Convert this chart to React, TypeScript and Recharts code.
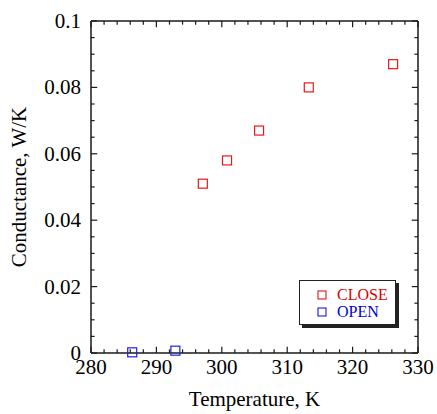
import React from 'react';
import { ScatterChart, Scatter, XAxis, YAxis, ReferenceLine } from 'recharts';

const closeTemps = [297.1, 300.8, 305.7, 313.3, 326.2];
const closeCond = [0.051, 0.058, 0.067, 0.080, 0.087];
const openTemps = [286.3, 292.9];
const openCond = [0.0002, 0.0007];

const xTicks = [280, 282, 284, 286, 288, 290, 292, 294, 296, 298, 300, 302, 304, 306, 308, 310, 312, 314, 316, 318, 320, 322, 324, 326, 328, 330];
const yTicksMilli = [0, 5, 10, 15, 20, 25, 30, 35, 40, 45, 50, 55, 60, 65, 70, 75, 80, 85, 90, 95, 100];
const yTicks = yTicksMilli.map((v) => v / 1000);
const xMajor = [280, 290, 300, 310, 320, 330];
const yMajor = [0, 0.02, 0.04, 0.06, 0.08, 0.1];
const legendNames = ['CLOSE', 'OPEN'];

const closeData = closeTemps.map((x, i) => ({ x, y: closeCond[i] }));
const openData = openTemps.map((x, i) => ({ x, y: openCond[i] }));

const X0 = 280;
const X1 = 330;
const Y0 = 0;
const Y1 = 0.1;

const FONT = '"Liberation Serif", "Times New Roman", serif';
const AX = '#1a1a1a';
const SW = 1.5;
// tick lengths expressed in data units of the axes (about 6px and 3.5px)
const isMajorX = (v: number) => Math.round(v) % 10 === 0;
const isMajorY = (v: number) => Math.round(v * 1000) % 20 === 0;
const tickLenY = (maj: boolean) => (maj ? 0.0019 : 0.0011);
const tickLenX = (maj: boolean) => (maj ? 0.95 : 0.55);

const BottomTick = (p: any) => {
  const v = p.payload.value;
  if (!isMajorX(v)) return <g />;
  return (
    <text x={p.x} y={p.y + 21} textAnchor="middle" fontFamily={FONT} fontSize={21} fill="#000">
      {v}
    </text>
  );
};
const LeftTick = (p: any) => {
  const v = p.payload.value;
  if (!isMajorY(v)) return <g />;
  return (
    <text x={p.x - 10} y={p.y + 7} textAnchor="end" fontFamily={FONT} fontSize={21} fill="#000">
      {String(v)}
    </text>
  );
};

const squareShape = (color: string) => (props: any) => {
  const { cx, cy } = props;
  if (cx == null || cy == null) return <g />;
  return <rect x={cx - 4.5} y={cy - 4.5} width={9} height={9} fill="none" stroke={color} strokeWidth={1.2} />;
};

const RED = '#e41a1c';
const BLUE = '#1f1fe0';
const legendColors = ['#e00000', '#0000e0'];

const XLabel = (p: any) => {
  const vb = p.viewBox || {};
  const cx = (vb.x ?? 91) + (vb.width ?? 327) / 2;
  return (
    <text x={cx} y={406} textAnchor="middle" fontFamily={FONT} fontSize={21} fill="#000">
      Temperature, K
    </text>
  );
};
const YLabel = (p: any) => {
  const vb = p.viewBox || {};
  const cy = (vb.y ?? 21) + (vb.height ?? 332) / 2;
  return (
    <text x={26} y={cy} transform={`rotate(-90 26 ${cy})`} textAnchor="middle" fontFamily={FONT} fontSize={21} fill="#000">
      Conductance, W/K
    </text>
  );
};

const LegendBox = () => (
  <div
    style={{
      position: 'absolute',
      left: 299,
      top: 280,
      width: 97,
      height: 45,
      border: '1px solid #222',
      background: '#fff',
      boxShadow: '3px 3px 0 #222',
      boxSizing: 'border-box',
      fontFamily: FONT,
      fontSize: 16,
    }}
  >
    {legendNames.map((name, i) => (
      <div key={name} style={{ position: 'absolute', left: 17, top: 5 + i * 17, height: 17, display: 'flex', alignItems: 'center' }}>
        <svg width={10} height={10} style={{ marginRight: 10 }}>
          <rect x={1} y={1} width={8} height={8} fill="none" stroke={legendColors[i]} strokeWidth={1} />
        </svg>
        <span style={{ color: legendColors[i], lineHeight: '17px' }}>{name}</span>
      </div>
    ))}
  </div>
);

export default function App() {
  const tickLines: any[] = [];
  xTicks.forEach((v) => {
    const len = tickLenY(isMajorX(v));
    tickLines.push(
      <ReferenceLine key={`b${v}`} segment={[{ x: v, y: Y0 }, { x: v, y: Y0 + len }]} stroke={AX} strokeWidth={1.2} ifOverflow="visible" />,
      <ReferenceLine key={`t${v}`} segment={[{ x: v, y: Y1 }, { x: v, y: Y1 - len }]} stroke={AX} strokeWidth={1.2} ifOverflow="visible" />
    );
  });
  yTicks.forEach((v) => {
    const len = tickLenX(isMajorY(v));
    tickLines.push(
      <ReferenceLine key={`l${v}`} segment={[{ x: X0, y: v }, { x: X0 + len, y: v }]} stroke={AX} strokeWidth={1.2} ifOverflow="visible" />,
      <ReferenceLine key={`r${v}`} segment={[{ x: X1, y: v }, { x: X1 - len, y: v }]} stroke={AX} strokeWidth={1.2} ifOverflow="visible" />
    );
  });
  return (
    <div style={{ position: 'absolute', left: 0, top: 0, width: 437, height: 414, background: '#fff' }}>
      <ScatterChart width={437} height={414} margin={{ top: 21, right: 19, left: 0, bottom: 0 }}>
        <XAxis
          type="number"
          dataKey="x"
          domain={[X0, X1]}
          ticks={xTicks}
          interval={0}
          height={61}
          tickSize={0}
          tickMargin={0}
          tickLine={false}
          axisLine={{ stroke: AX, strokeWidth: SW }}
          tick={BottomTick}
          label={<XLabel />}
        />
        <YAxis
          type="number"
          dataKey="y"
          domain={[Y0, Y1]}
          ticks={yTicks}
          interval={0}
          width={91}
          tickSize={0}
          tickMargin={0}
          tickLine={false}
          axisLine={{ stroke: AX, strokeWidth: SW }}
          tick={LeftTick}
          label={<YLabel />}
        />
        <ReferenceLine y={Y1} stroke={AX} strokeWidth={SW} ifOverflow="visible" />
        <ReferenceLine x={X1} stroke={AX} strokeWidth={SW} ifOverflow="visible" />
        {tickLines}
        <Scatter name="CLOSE" data={closeData} fill={RED} shape={squareShape(RED)} isAnimationActive={false} />
        <Scatter name="OPEN" data={openData} fill={BLUE} shape={squareShape(BLUE)} isAnimationActive={false} />
      </ScatterChart>
      <LegendBox />
    </div>
  );
}
